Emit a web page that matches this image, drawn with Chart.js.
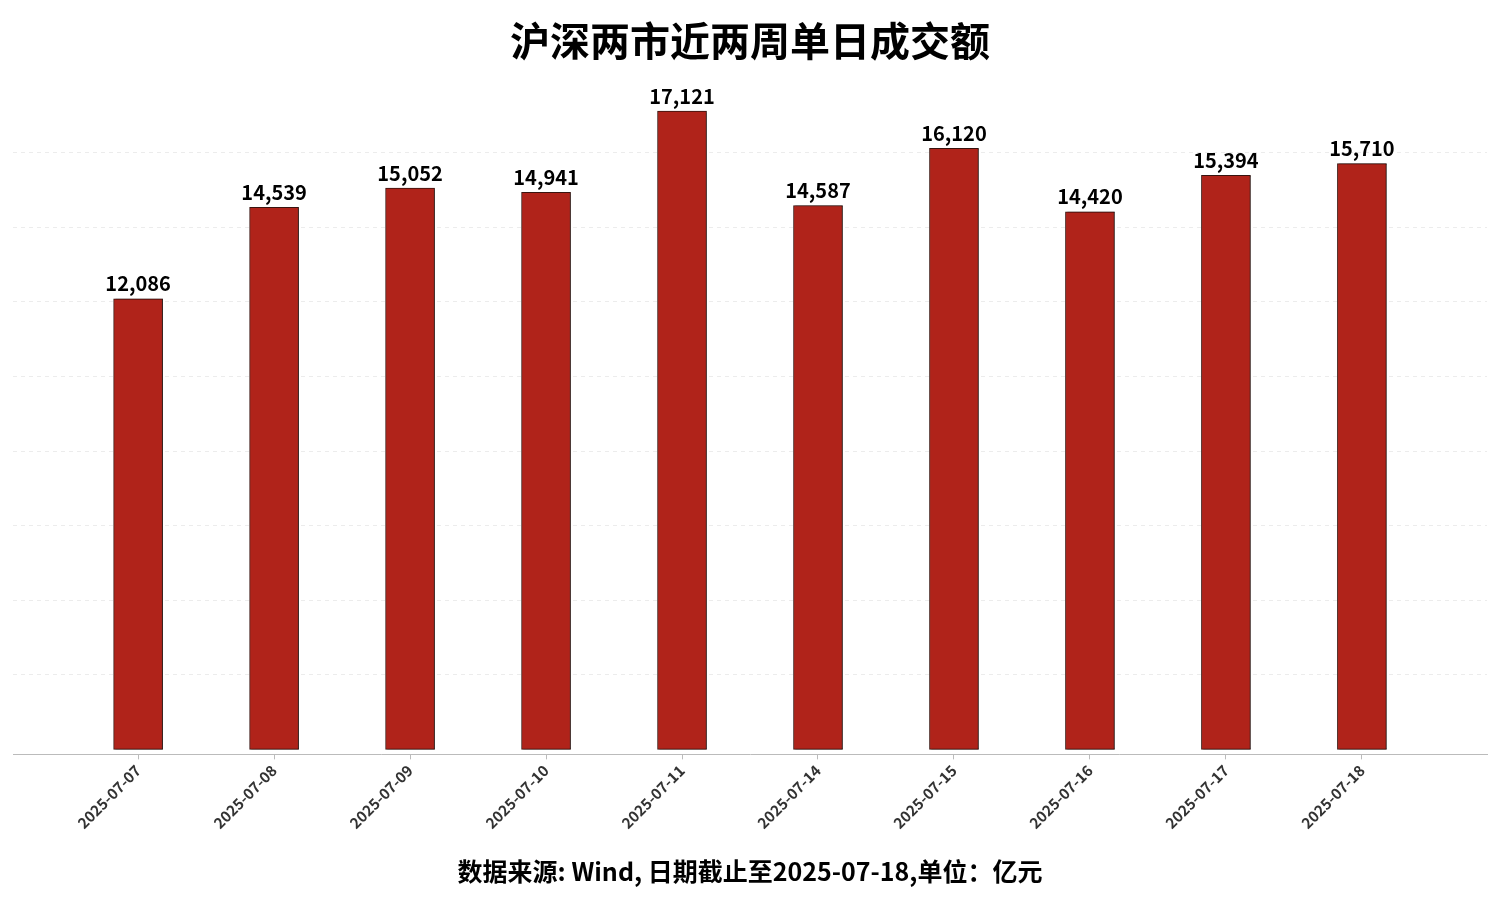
<!DOCTYPE html>
<html>
<head>
<meta charset="utf-8">
<script src="https://cdn.jsdelivr.net/npm/chart.js@4/dist/chart.umd.min.js"></script>
<style>
html,body{margin:0;padding:0;background:#fff;}
#wrap{width:1500px;height:900px;}
</style>
</head>
<body>
<div id="wrap"><canvas id="c" width="1500" height="900"></canvas></div>
<script>
const dates = ['2025-07-07','2025-07-08','2025-07-09','2025-07-10','2025-07-11','2025-07-14','2025-07-15','2025-07-16','2025-07-17','2025-07-18'];
const turnover = [12086, 14539, 15052, 14941, 17121, 14587, 16120, 14420, 15394, 15710];
const titleText = '沪深两市近两周单日成交额';
const footText = '数据来源: Wind, 日期截止至2025-07-18,单位：亿元';

const FONT = '"Noto Sans CJK SC", "Noto Sans", sans-serif';

const valueLabels = {
  id: 'valueLabels',
  afterDatasetsDraw(chart) {
    const ctx = chart.ctx;
    const meta = chart.getDatasetMeta(0);
    ctx.save();
    ctx.font = 'bold 20px ' + FONT;
    ctx.fillStyle = '#000';
    ctx.textAlign = 'center';
    ctx.textBaseline = 'bottom';
    meta.data.forEach((bar, i) => {
      ctx.fillText(turnover[i].toLocaleString('en-US'), bar.x, bar.y - 5);
    });
    ctx.restore();
  }
};
const barShadow = {
  id: 'barShadow',
  beforeDatasetDraw(chart) {
    const ctx = chart.ctx;
    ctx.save();
    ctx.shadowColor = 'rgba(0,0,0,0.35)';
    ctx.shadowOffsetX = 2;
    ctx.shadowOffsetY = 0;
    ctx.shadowBlur = 1;
  },
  afterDatasetDraw(chart) {
    chart.ctx.restore();
  }
};

new Chart(document.getElementById('c'), {
  type: 'bar',
  data: {
    datasets: [{
      data: turnover.map((v, i) => ({x: i, y: v})),
      backgroundColor: '#B0231A',
      borderColor: '#3a1510',
      borderWidth: 1,
      borderSkipped: false,
      barThickness: 49
    }]
  },
  plugins: [barShadow, valueLabels],
  options: {
    responsive: false,
    animation: false,
    layout: { padding: { left: 13, right: 13, top: 0, bottom: 0 } },
    plugins: {
      legend: { display: false },
      tooltip: { enabled: false },
      title: {
        display: true,
        text: titleText,
        color: '#000',
        font: { family: FONT, size: 40, weight: 'bold' },
        padding: { top: 17, bottom: 17 }
      },
      subtitle: {
        display: true,
        position: 'bottom',
        text: footText,
        color: '#000',
        font: { family: FONT, size: 25, weight: 'bold' },
        padding: { top: 22, bottom: 14 }
      }
    },
    scales: {
      x: {
        type: 'linear',
        offset: false,
        min: -0.92,
        max: 9.92,
        afterBuildTicks(scale) {
          scale.ticks = dates.map((d, i) => ({ value: i }));
        },
        ticks: {
          autoSkip: false,
          maxRotation: 45,
          minRotation: 45,
          color: '#333',
          font: { family: FONT, size: 15, weight: 'bold' },
          padding: 2,
          callback: (v) => dates[v]
        },
        grid: { offset: false, drawOnChartArea: false, drawTicks: true, tickLength: 5, color: '#bbb' },
        border: { display: true, color: '#bbb', width: 1 }
      },
      y: {
        min: -135,
        max: 17900,
        afterBuildTicks(scale) {
          const t = [];
          for (let v = 2000; v <= 16000; v += 2000) t.push({ value: v });
          scale.ticks = t;
        },
        ticks: { display: false },
        grid: { color: '#ececec', lineWidth: 1, drawTicks: false },
        border: { display: false, dash: [4, 4] }
      }
    }
  }
});
</script>
</body>
</html>
